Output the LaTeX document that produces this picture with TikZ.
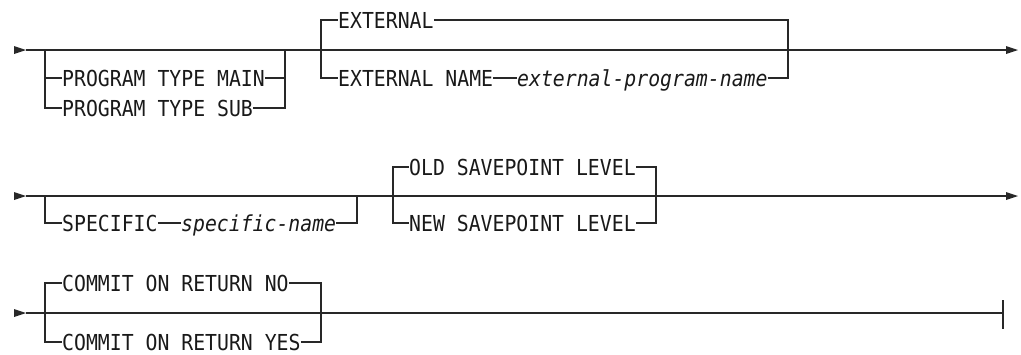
\documentclass[tikz,border=0pt]{standalone}
\usepackage{fontspec}
\setmonofont[FakeStretch=0.9]{DejaVu Sans Mono}
\newcommand\kwfont{\ttfamily\fontsize{22}{26}\selectfont}
\definecolor{linec}{RGB}{40,40,40}
\definecolor{txtc}{RGB}{25,25,25}
\tikzset{
  rail/.style={draw=linec, line width=1.3pt},
  kw/.style={font=\kwfont, inner sep=0pt, text height=16pt, text depth=0pt, anchor=west, text=txtc},
  var/.style={kw, font=\kwfont\itshape},
  tip/.style={fill=linec},
}
\begin{document}
\begin{tikzpicture}[x=1pt,y=-1pt]
\useasboundingbox (0,0) rectangle (1021,354);
% ---------------- Row 1 ----------------
\coordinate (r1s) at (26,50);
\coordinate (r1e) at (1006,50);
\fill[tip] (14,46) -- (r1s) -- (14,54) -- cycle;
\draw[rail] (r1s) -- (r1e);
\fill[tip] (1006,46) -- (1018,50) -- (1006,54) -- cycle;
% group A
\coordinate (a1) at (45,50);
\coordinate (a2) at (285,50);
\node[kw] (ptm) at (62,78) {PROGRAM TYPE MAIN};
\node[kw] (pts) at (62,108) {PROGRAM TYPE SUB};
\draw[rail] (a1) |- (ptm.west);
\draw[rail] (a1) |- (pts.west);
\draw[rail] (ptm.east) -| (a2);
\draw[rail] (pts.east) -| (a2);
% group B
\coordinate (b1) at (321,50);
\coordinate (b2) at (788,50);
\node[kw] (ext) at (338,20) {EXTERNAL};
\node[kw] (extn) at (338,78) {EXTERNAL NAME};
\node[var] (epn) at (517,78) {external-program-name};
\draw[rail] (b1) |- (ext.west);
\draw[rail] (ext.east) -| (b2);
\draw[rail] (b1) |- (extn.west);
\draw[rail] (extn.east) -- (epn.west);
\draw[rail] (epn.east) -| (b2);
% ---------------- Row 2 ----------------
\coordinate (r2s) at (26,196);
\coordinate (r2e) at (1006,196);
\fill[tip] (14,192) -- (r2s) -- (14,200) -- cycle;
\draw[rail] (r2s) -- (r2e);
\fill[tip] (1006,192) -- (1018,196) -- (1006,200) -- cycle;
% group C
\coordinate (c1) at (45,196);
\coordinate (c2) at (357,196);
\node[kw] (spec) at (62,223) {SPECIFIC};
\node[var] (specn) at (181,223) {specific-name};
\draw[rail] (c1) |- (spec.west);
\draw[rail] (spec.east) -- (specn.west);
\draw[rail] (specn.east) -| (c2);
% group D
\coordinate (d1) at (393,196);
\coordinate (d2) at (656,196);
\node[kw] (old) at (409,167) {OLD SAVEPOINT LEVEL};
\node[kw] (new) at (409,223) {NEW SAVEPOINT LEVEL};
\draw[rail] (d1) |- (old.west);
\draw[rail] (old.east) -| (d2);
\draw[rail] (d1) |- (new.west);
\draw[rail] (new.east) -| (d2);
% ---------------- Row 3 ----------------
\coordinate (r3s) at (26,313);
\coordinate (r3e) at (1003,313);
\fill[tip] (14,309) -- (r3s) -- (14,317) -- cycle;
\draw[rail] (r3s) -- (r3e);
\coordinate (endt) at (1003,300);
\coordinate (endb) at (1003,329);
\draw[rail] (endt) -- (endb);
% group E
\coordinate (e1) at (45,313);
\coordinate (e2) at (321,313);
\node[kw] (cno) at (62,283) {COMMIT ON RETURN NO};
\node[kw] (cyes) at (62,342) {COMMIT ON RETURN YES};
\draw[rail] (e1) |- (cno.west);
\draw[rail] (cno.east) -| (e2);
\draw[rail] (e1) |- (cyes.west);
\draw[rail] (cyes.east) -| (e2);
\end{tikzpicture}
\end{document}
